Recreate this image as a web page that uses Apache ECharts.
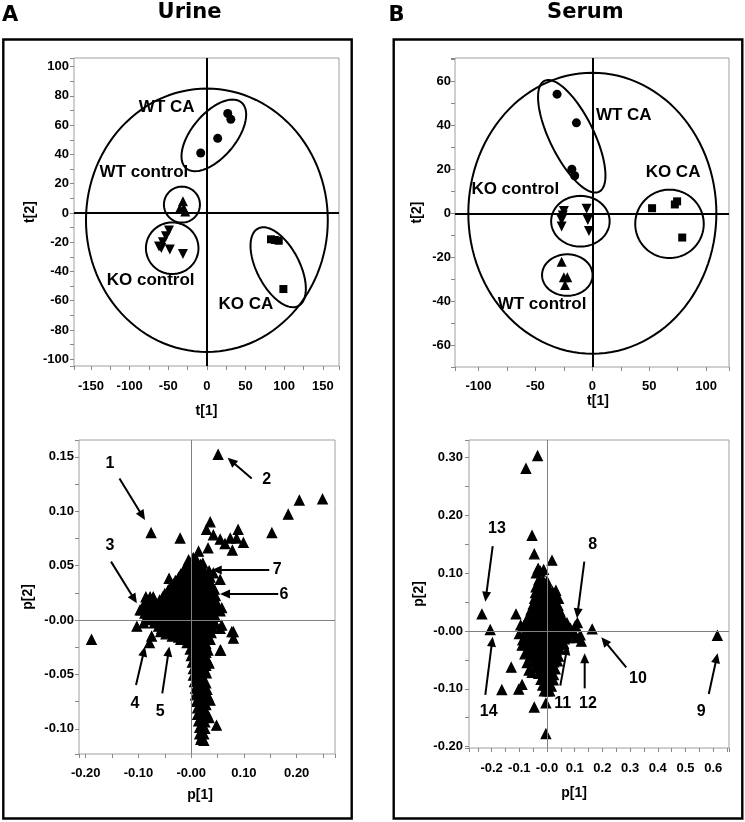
<!DOCTYPE html>
<html><head><meta charset="utf-8">
<script src="https://cdn.jsdelivr.net/npm/echarts@6/dist/echarts.min.js"></script>
<style>html,body{margin:0;padding:0;background:#fff}#c{width:745px;height:822px}</style>
</head><body><div id="c"></div>
<script>
// ---------- Urine score plot (t[1], t[2]) ----------
const wtCA_urine   = [[27,68],[31,64],[14,51],[-8,41]];
const wtCtrl_urine = [[-31,8],[-35,3],[-28,1],[-30,3]];
const koCtrl_urine = [[-49,-12],[-53,-16],[-57,-20],[-62,-23],[-48,-25],[-31,-28],[-59,-24]];
const koCA_urine   = [[83,-18],[88,-18.5],[93,-19],[99,-52]];
// ellipses: [cx, cy, rx (x units), ry (y units), rotation deg]
const ellipses_urine = [[0,-5,156.5,90,0],[9,53,55.6,15,50],[-32.3,5.7,23.3,12.3,0],[-44.9,-24.1,34,17.6,0],[92.3,-37.1,56.5,14.6,-62.5]];
const groupLabels_urine = [['WT CA',-52,72.2],['WT control',-81.5,27.6],['KO control',-72.8,-45.8],['KO CA',50.5,-62.4]];

// ---------- Serum score plot ----------
const wtCA_serum   = [[-31,54],[-14,41],[-18,20],[-15.5,17]];
const koCtrl_serum = [[-25,1],[-27,-3],[-27,-6],[-5,2],[-4,-3],[-3,-8],[-26,-1]];
const wtCtrl_serum = [[-27,-22],[-25,-29],[-22,-29],[-24,-32.5]];
const koCA_serum   = [[52.5,2.3],[72.5,4],[74.5,5.4],[79,-11]];
const ellipses_serum = [[0,0,109,63.7,0],[-18.1,34.9,54.3,10,-63.8],[-10.5,-3.6,25.7,11.5,0],[-22,-28,22.2,9.4,0],[67.8,-4.8,30.1,15.5,0]];
const groupLabels_serum = [['WT CA',27.6,44.6],['KO CA',70.9,18.4],['KO control',-67.7,10.9],['WT control',-44.2,-41.1]];

// ---------- Urine loading plot (p[1], p[2]) ----------
const loadings_urine = [
[-0.189,-0.018],[0.051,0.152],[0.249,0.111],[0.205,0.110],[0.184,0.097],[0.153,0.080],[-0.076,0.080],[-0.021,0.075],
[0.036,0.090],[0.029,0.083],[0.042,0.078],[0.055,0.074],[0.074,0.075],[0.089,0.083],[0.086,0.075],[0.099,0.071],[0.078,0.064],[0.064,0.070],[0.032,0.066],[0.014,0.063],[0.004,0.057],
[-0.042,0.038],[0.055,0.037],[0.042,0.043],[0.058,0.011],[0.055,0.008],[0.055,-0.008],[0.077,-0.011],[0.080,-0.017],[0.056,-0.028],[0.034,-0.040],[0.048,-0.097],
[-0.103,-0.006],[-0.090,-0.003],[-0.075,-0.015],[-0.079,-0.021],[-0.097,0.009],[-0.086,0.021],[-0.072,0.021],[-0.056,0.018],
[0.058,-0.005],[0.080,-0.011],[0.055,-0.028],[0.032,-0.038],
[-0.005,0.055],[0.010,0.055],[0.022,0.052],
[-0.006,0.051],[0.006,0.051],[0.018,0.051],
[-0.012,0.048],[0.000,0.048],[0.012,0.048],[0.024,0.046],
[-0.014,0.045],[-0.002,0.045],[0.010,0.045],[0.022,0.045],[0.034,0.045],
[-0.020,0.042],[-0.008,0.042],[0.004,0.042],[0.016,0.042],[0.028,0.040],
[-0.024,0.039],[-0.012,0.039],[0.000,0.039],[0.012,0.039],[0.024,0.039],[0.036,0.039],
[-0.030,0.036],[-0.018,0.036],[-0.006,0.036],[0.006,0.036],[0.018,0.036],[0.030,0.034],
[-0.034,0.033],[-0.022,0.033],[-0.010,0.033],[0.002,0.033],[0.014,0.033],[0.026,0.033],[0.038,0.033],
[-0.040,0.030],[-0.028,0.030],[-0.016,0.030],[-0.004,0.030],[0.008,0.030],[0.020,0.030],[0.032,0.030],[0.044,0.028],
[-0.044,0.027],[-0.032,0.027],[-0.020,0.027],[-0.008,0.027],[0.004,0.027],[0.016,0.027],[0.028,0.027],[0.040,0.027],
[-0.050,0.024],[-0.038,0.024],[-0.026,0.024],[-0.014,0.024],[-0.002,0.024],[0.010,0.024],[0.022,0.024],[0.034,0.024],[0.046,0.022],
[-0.078,0.021],[-0.054,0.021],[-0.042,0.021],[-0.030,0.021],[-0.018,0.021],[-0.006,0.021],[0.006,0.021],[0.018,0.021],[0.030,0.021],[0.042,0.021],
[-0.084,0.018],[-0.070,0.017],[-0.060,0.018],[-0.048,0.018],[-0.036,0.018],[-0.024,0.018],[-0.012,0.018],[0.000,0.018],[0.012,0.018],[0.024,0.018],[0.036,0.018],[0.048,0.016],
[-0.086,0.015],[-0.074,0.015],[-0.062,0.015],[-0.050,0.015],[-0.038,0.015],[-0.026,0.015],[-0.014,0.015],[-0.002,0.015],[0.010,0.015],[0.022,0.015],[0.034,0.015],[0.046,0.015],
[-0.092,0.012],[-0.080,0.012],[-0.068,0.012],[-0.056,0.012],[-0.044,0.012],[-0.032,0.012],[-0.020,0.012],[-0.008,0.012],[0.004,0.012],[0.016,0.012],[0.028,0.012],[0.040,0.012],
[-0.094,0.009],[-0.082,0.009],[-0.070,0.009],[-0.058,0.009],[-0.046,0.009],[-0.034,0.009],[-0.022,0.009],[-0.010,0.009],[0.002,0.009],[0.014,0.009],[0.026,0.009],[0.038,0.009],[0.048,0.009],
[-0.088,0.006],[-0.076,0.006],[-0.064,0.006],[-0.052,0.006],[-0.040,0.006],[-0.028,0.006],[-0.016,0.006],[-0.004,0.006],[0.008,0.006],[0.020,0.006],[0.032,0.006],[0.044,0.004],
[-0.084,0.003],[-0.072,0.003],[-0.060,0.003],[-0.048,0.003],[-0.036,0.003],[-0.024,0.003],[-0.012,0.003],[0.000,0.003],[0.012,0.003],[0.024,0.003],[0.036,0.003],[0.046,0.003],
[-0.078,0.000],[-0.066,0.000],[-0.054,0.000],[-0.042,0.000],[-0.030,0.000],[-0.018,0.000],[-0.006,0.000],[0.006,0.000],[0.018,0.000],[0.030,0.000],[0.042,0.000],
[-0.070,-0.003],[-0.058,-0.003],[-0.046,-0.003],[-0.034,-0.003],[-0.022,-0.003],[-0.010,-0.003],[0.002,-0.003],[0.014,-0.003],[0.026,-0.003],[0.038,-0.003],
[-0.062,-0.006],[-0.050,-0.006],[-0.038,-0.006],[-0.026,-0.006],[-0.014,-0.006],[-0.002,-0.006],[0.010,-0.006],[0.022,-0.006],[0.034,-0.006],[0.046,-0.004],
[-0.056,-0.008],[-0.044,-0.008],[-0.032,-0.008],[-0.020,-0.008],[-0.008,-0.008],[0.004,-0.008],[0.016,-0.008],[0.028,-0.008],[0.040,-0.008],
[-0.058,-0.011],[-0.046,-0.011],[-0.034,-0.011],[-0.022,-0.011],[-0.010,-0.011],[0.002,-0.011],[0.014,-0.011],[0.026,-0.011],[0.038,-0.012],
[-0.048,-0.013],[-0.030,-0.013],[-0.018,-0.013],[-0.006,-0.013],[0.006,-0.013],[0.018,-0.013],[0.030,-0.013],
[-0.036,-0.015],[-0.024,-0.016],[-0.012,-0.016],[0.000,-0.016],[0.012,-0.016],[0.024,-0.016],[0.036,-0.018],
[-0.020,-0.018],[-0.004,-0.018],[0.008,-0.018],[0.020,-0.018],[0.032,-0.018],
[-0.008,-0.021],[0.004,-0.021],[0.016,-0.021],[0.028,-0.022],
[0.004,-0.024],[0.016,-0.024],[0.028,-0.024],
[-0.002,-0.027],[0.010,-0.027],[0.022,-0.027],[0.032,-0.028],
[0.006,-0.030],[0.018,-0.030],[0.028,-0.030],
[0.000,-0.033],[0.012,-0.033],[0.024,-0.033],
[0.006,-0.036],[0.018,-0.036],[0.028,-0.036],
[0.002,-0.039],[0.014,-0.039],[0.025,-0.039],
[0.008,-0.042],[0.020,-0.042],[0.028,-0.042],
[0.004,-0.045],[0.015,-0.045],[0.026,-0.046],
[0.010,-0.048],[0.022,-0.048],
[0.004,-0.051],[0.016,-0.051],[0.029,-0.049],
[0.010,-0.054],[0.022,-0.054],
[0.006,-0.057],[0.018,-0.057],[0.028,-0.058],
[0.012,-0.060],[0.024,-0.060],
[0.008,-0.063],[0.020,-0.063],[0.030,-0.064],
[0.014,-0.066],[0.026,-0.066],
[0.008,-0.069],[0.020,-0.069],[0.032,-0.070],
[0.014,-0.072],[0.026,-0.072],
[0.010,-0.075],[0.022,-0.075],[0.036,-0.074],
[0.016,-0.078],[0.028,-0.078],
[0.012,-0.081],[0.024,-0.082],[0.030,-0.086],
[0.018,-0.084],
[0.012,-0.087],[0.022,-0.088],[0.034,-0.090],
[0.018,-0.090],
[0.014,-0.093],[0.026,-0.094],
[0.020,-0.096],
[0.016,-0.099],[0.026,-0.100],
[0.020,-0.102],
[0.016,-0.105],[0.024,-0.105],
[0.020,-0.108],
[0.018,-0.110],[0.024,-0.111]
];
// arrows: [x0, y0, x1(head), y1(head)]
const arrows_urine = [[-0.136,0.130,-0.0876,0.0919],[0.1147,0.130,0.069,0.149],[-0.152,0.0536,-0.103,0.0153],[-0.1046,-0.0597,-0.0876,-0.0245],[-0.0548,-0.0674,-0.0415,-0.0245],[0.165,0.0239,0.0546,0.0239],[0.148,0.046,0.0389,0.046]];
const numLabels_urine = [['1',-0.154,0.144],['2',0.143,0.129],['3',-0.154,0.068],['4',-0.1065,-0.0772],['5',-0.059,-0.0843],['6',0.176,0.023],['7',0.163,0.046]];

// ---------- Serum loading plot ----------
const loadings_serum = [
[-0.034,0.303],[-0.076,0.281],[-0.054,0.165],[-0.046,0.133],[0.018,0.122],[-0.235,0.029],[-0.205,0.002],[-0.112,0.029],[0.163,0.003],[0.615,-0.008],
[-0.129,-0.063],[-0.163,-0.102],[-0.102,-0.101],[-0.090,-0.093],[-0.046,-0.132],[-0.004,-0.125],[-0.004,-0.178],[-0.054,-0.072],
[-0.032,0.108],[-0.024,0.103],[-0.012,0.106],[-0.039,0.100],
[-0.030,0.088],[-0.015,0.088],[0.000,0.086],
[-0.040,0.076],[-0.025,0.076],[-0.010,0.076],[0.005,0.076],
[-0.042,0.066],[-0.027,0.066],[-0.012,0.066],[0.003,0.066],[0.020,0.068],[0.032,0.070],
[-0.045,0.056],[-0.030,0.056],[-0.015,0.056],[0.000,0.056],[0.015,0.056],[0.030,0.058],[0.042,0.056],
[-0.050,0.046],[-0.035,0.046],[-0.020,0.046],[-0.005,0.046],[0.010,0.046],[0.025,0.046],[0.040,0.044],
[-0.058,0.036],[-0.043,0.036],[-0.028,0.036],[-0.013,0.036],[0.002,0.036],[0.017,0.036],[0.032,0.036],[0.047,0.034],
[-0.066,0.026],[-0.050,0.026],[-0.035,0.026],[-0.020,0.026],[-0.005,0.026],[0.010,0.026],[0.025,0.026],[0.040,0.026],[0.055,0.024],
[-0.075,0.016],[-0.060,0.016],[-0.045,0.016],[-0.030,0.016],[-0.015,0.016],[0.000,0.016],[0.015,0.016],[0.030,0.016],[0.045,0.016],[0.060,0.018],[0.072,0.014],
[-0.085,0.008],[-0.070,0.006],[-0.055,0.006],[-0.040,0.006],[-0.025,0.006],[-0.010,0.006],[0.005,0.006],[0.020,0.006],[0.035,0.006],[0.050,0.006],[0.065,0.006],[0.085,0.004],[0.102,0.009],[0.110,0.014],
[-0.080,-0.004],[-0.065,-0.004],[-0.050,-0.004],[-0.035,-0.004],[-0.020,-0.004],[-0.005,-0.004],[0.010,-0.004],[0.025,-0.004],[0.040,-0.004],[0.055,-0.004],[0.070,-0.006],[0.084,-0.004],[0.100,-0.005],[0.120,-0.007],
[-0.088,-0.016],[-0.072,-0.014],[-0.057,-0.014],[-0.042,-0.014],[-0.027,-0.014],[-0.012,-0.014],[0.003,-0.014],[0.018,-0.014],[0.033,-0.014],[0.048,-0.014],[0.063,-0.014],[0.078,-0.012],[0.105,-0.012],[0.124,-0.018],
[-0.075,-0.024],[-0.060,-0.024],[-0.045,-0.024],[-0.030,-0.024],[-0.015,-0.024],[0.000,-0.024],[0.015,-0.024],[0.030,-0.024],[0.045,-0.024],[0.060,-0.022],
[-0.072,-0.034],[-0.057,-0.034],[-0.042,-0.034],[-0.027,-0.034],[-0.012,-0.034],[0.003,-0.034],[0.018,-0.034],[0.033,-0.034],[0.046,-0.032],
[-0.060,-0.044],[-0.045,-0.044],[-0.030,-0.044],[-0.015,-0.044],[0.000,-0.044],[0.015,-0.044],[0.030,-0.044],[0.042,-0.044],
[-0.050,-0.054],[-0.035,-0.054],[-0.020,-0.054],[-0.005,-0.054],[0.010,-0.054],[0.025,-0.054],[0.038,-0.052],
[-0.040,-0.064],[-0.025,-0.064],[-0.010,-0.064],[0.005,-0.064],[0.020,-0.064],[0.030,-0.066],
[-0.030,-0.074],[-0.018,-0.074],[-0.005,-0.074],[0.010,-0.074],[0.024,-0.076],
[-0.022,-0.084],[-0.010,-0.084],[0.003,-0.084],[0.016,-0.084],[0.023,-0.085],
[-0.016,-0.094],[-0.004,-0.094],[0.008,-0.094],[0.016,-0.096],
[-0.010,-0.104],[0.002,-0.104],[0.010,-0.104],
[-0.095,0.010],[-0.100,-0.005],[-0.090,-0.025],[-0.080,-0.040],[-0.072,-0.055],[-0.065,-0.068]
];
const arrows_serum = [[-0.196,0.147,-0.2227,0.0507],[-0.2227,-0.1107,-0.196,-0.0098],[0.1347,0.12,0.108,0.022],[0.048,-0.0946,0.0747,-0.0242],[0.136,-0.0992,0.136,-0.0386],[0.286,-0.0628,0.196,-0.0109],[0.584,-0.109,0.616,-0.0386]];
const numLabels_serum = [['13',-0.1805,0.1777],['14',-0.2105,-0.1396],['8',0.165,0.1488],['11',0.0567,-0.125],['12',0.148,-0.125],['10',0.3285,-0.0818],['9',0.557,-0.1396]];

// ---------- rendering ----------
const FONT = '"Liberation Sans", Arial, Helvetica, sans-serif';
const chart = echarts.init(document.getElementById('c'), null, {renderer:'canvas'});

function isMult(v, m){ const r = v/m; return Math.abs(r - Math.round(r)) < 1e-6; }
function intFmt(m){ return v => isMult(v,m) ? String(Math.round(v)) : ''; }
function decFmt(m, d){ return v => { if(!isMult(v,m)) return ''; if (Math.abs(v) < 1e-9) return '-' + (0).toFixed(d); return v.toFixed(d); }; }

function axis(gi, min, max, step, fmt, name, nameGap, margin, isX, namePad){
  return {
    gridIndex: gi, type:'value', min, max, minInterval: step, maxInterval: step, splitNumber: 8,
    axisLine:{show:false, onZero:false},
    axisTick:{show:true, length:4, inside:false, lineStyle:{color:'#888', width:1}},
    splitLine:{show:false},
    axisLabel:{formatter: fmt, margin, fontSize:13, fontWeight:'bold', color:'#000', fontFamily:FONT},
    name, nameLocation:'middle', nameGap,
    nameTextStyle:{fontSize:14, fontWeight:'bold', color:'#000', fontFamily:FONT, padding: namePad || 0}
  };
}

function ellipseItem(params, api){
  const c = api.coord([api.value(0), api.value(1)]);
  const s = api.size([api.value(2), api.value(3)]);
  const a = s[0], b = s[1], th = api.value(4)*Math.PI/180;
  const pts = [];
  for (let i=0;i<120;i++){
    const t = i/120*2*Math.PI;
    const ex = a*Math.cos(t), ey = b*Math.sin(t);
    const X = ex*Math.cos(th) - ey*Math.sin(th);
    const Y = ex*Math.sin(th) + ey*Math.cos(th);
    pts.push([c[0]+X, c[1]-Y]);
  }
  return {type:'polygon', shape:{points:pts}, style:{fill:'none', stroke:'#000', lineWidth:2}};
}
function arrowItem(params, api){
  const p1 = api.coord([api.value(0), api.value(1)]);
  const p2 = api.coord([api.value(2), api.value(3)]);
  const dx = p2[0]-p1[0], dy = p2[1]-p1[1], L = Math.hypot(dx,dy);
  const ux = dx/L, uy = dy/L, hl = 10, hw = 4.5;
  const bx = p2[0]-ux*hl, by = p2[1]-uy*hl;
  return {type:'group', children:[
    {type:'line', shape:{x1:p1[0], y1:p1[1], x2:bx+ux*2, y2:by+uy*2}, style:{stroke:'#000', lineWidth:2}},
    {type:'polygon', shape:{points:[[p2[0],p2[1]],[bx-uy*hw,by+ux*hw],[bx+uy*hw,by-ux*hw]]}, style:{fill:'#000'}}
  ]};
}
function textSeries(gi, list, font){
  return {type:'custom', xAxisIndex:gi, yAxisIndex:gi, silent:true, z:5,
    data: list.map(d => [d[1], d[2]]),
    renderItem: (params, api) => {
      const p = api.coord([api.value(0), api.value(1)]);
      return {type:'text', x:p[0], y:p[1], style:{text: list[params.dataIndex][0], font, fill:'#000',
        textAlign:'center', align:'center', textVerticalAlign:'middle', verticalAlign:'middle'}};
    }};
}
function scat(gi, data, symbol, size, rot, border){
  return {type:'scatter', xAxisIndex:gi, yAxisIndex:gi, data, symbol, symbolSize:size, symbolRotate:rot||0,
    itemStyle:{color:'#000', opacity:1, borderColor:'#000', borderWidth:border||0}, silent:true, z:4};
}
function zeroLines(gi, color, width){
  return {type:'scatter', xAxisIndex:gi, yAxisIndex:gi, data:[], silent:true, z:1,
    markLine:{silent:true, symbol:['none','none'], label:{show:false}, animation:false,
      lineStyle:{color, width, type:'solid', opacity:1}, emphasis:{disabled:true},
      data:[{xAxis:0},{yAxis:0}]}};
}

const gridBase = {show:true, borderColor:'#a0a0a0', borderWidth:1, containLabel:false, outerBoundsMode:'none'};
const LABEL_FONT = 'bold 17px ' + FONT;
const NUM_FONT = 'bold 16px ' + FONT;
const TITLE_FONT = 'bold 21px "DejaVu Sans", sans-serif';

const option = {
  animation:false,
  backgroundColor:'#fff',
  grid:[
    Object.assign({left:74, top:58, width:265, height:308}, gridBase),
    Object.assign({left:455, top:58, width:274, height:309}, gridBase),
    Object.assign({left:79, top:440, width:256, height:314}, gridBase),
    Object.assign({left:469, top:440, width:260, height:308}, gridBase)
  ],
  xAxis:[
    axis(0,-172,171,25,intFmt(50),'t[1]',38,14,true),
    axis(1,-120.7,120.1,25,intFmt(50),'t[1]',24,13,true,[0,0,0,12]),
    axis(2,-0.2127,0.2726,0.05,decFmt(0.1,2),'p[1]',34,13,true,[0,14,0,0]),
    axis(3,-0.2816,0.657,0.05,decFmt(0.1,1),'p[1]',38,14,true,[0,50,0,0])
  ],
  yAxis:[
    axis(0,-104.6,105.9,10,intFmt(20),'t[2]',37,5,false),
    axis(1,-69.7,70.4,10,intFmt(20),'t[2]',31,4,false),
    axis(2,-0.1232,0.1654,0.025,decFmt(0.05,2),'p[2]',44,5,false),
    axis(3,-0.2024,0.3304,0.05,decFmt(0.1,2),'p[2]',43,6,false)
  ],
  graphic:[
    {type:'rect', shape:{x:3.3, y:39.5, width:348.4, height:779}, style:{fill:'none', stroke:'#000', lineWidth:2.4}},
    {type:'rect', shape:{x:393.7, y:39.5, width:348.6, height:779}, style:{fill:'none', stroke:'#000', lineWidth:2.4}},
    {type:'text', x:2, y:15.5, style:{text:'A', font:TITLE_FONT, fill:'#000', textAlign:'left', align:'left', textVerticalAlign:'middle', verticalAlign:'middle'}},
    {type:'text', x:189.5, y:12.5, style:{text:'Urine', font:TITLE_FONT, fill:'#000', textAlign:'center', align:'center', textVerticalAlign:'middle', verticalAlign:'middle'}},
    {type:'text', x:388.5, y:15.5, style:{text:'B', font:TITLE_FONT, fill:'#000', textAlign:'left', align:'left', textVerticalAlign:'middle', verticalAlign:'middle'}},
    {type:'text', x:585.3, y:12.8, style:{text:'Serum', font:TITLE_FONT, fill:'#000', textAlign:'center', align:'center', textVerticalAlign:'middle', verticalAlign:'middle'}}
  ],
  series:[
    zeroLines(0,'#000',2),
    {type:'custom', xAxisIndex:0, yAxisIndex:0, data:ellipses_urine, renderItem:ellipseItem, silent:true, z:2, encode:{x:0,y:1}},
    scat(0, wtCA_urine, 'circle', 9),
    scat(0, wtCtrl_urine, 'triangle', 10),
    scat(0, koCtrl_urine, 'triangle', 10, 180),
    scat(0, koCA_urine, 'rect', 8),
    textSeries(0, groupLabels_urine, LABEL_FONT),

    zeroLines(1,'#000',2),
    {type:'custom', xAxisIndex:1, yAxisIndex:1, data:ellipses_serum, renderItem:ellipseItem, silent:true, z:2, encode:{x:0,y:1}},
    scat(1, wtCA_serum, 'circle', 9),
    scat(1, koCtrl_serum, 'triangle', 10, 180),
    scat(1, wtCtrl_serum, 'triangle', 10),
    scat(1, koCA_serum, 'rect', 8),
    textSeries(1, groupLabels_serum, LABEL_FONT),

    zeroLines(2,'#808080',1),
    scat(2, loadings_urine, 'triangle', 9.5, 0, 1.2),
    {type:'custom', xAxisIndex:2, yAxisIndex:2, data:arrows_urine, renderItem:arrowItem, silent:true, z:5, encode:{x:[0,2], y:[1,3]}},
    textSeries(2, numLabels_urine, NUM_FONT),

    zeroLines(3,'#808080',1),
    scat(3, loadings_serum, 'triangle', 9.5, 0, 1.2),
    {type:'custom', xAxisIndex:3, yAxisIndex:3, data:arrows_serum, renderItem:arrowItem, silent:true, z:5, encode:{x:[0,2], y:[1,3]}},
    textSeries(3, numLabels_serum, NUM_FONT)
  ]
};
chart.setOption(option);
</script>
</body></html>
